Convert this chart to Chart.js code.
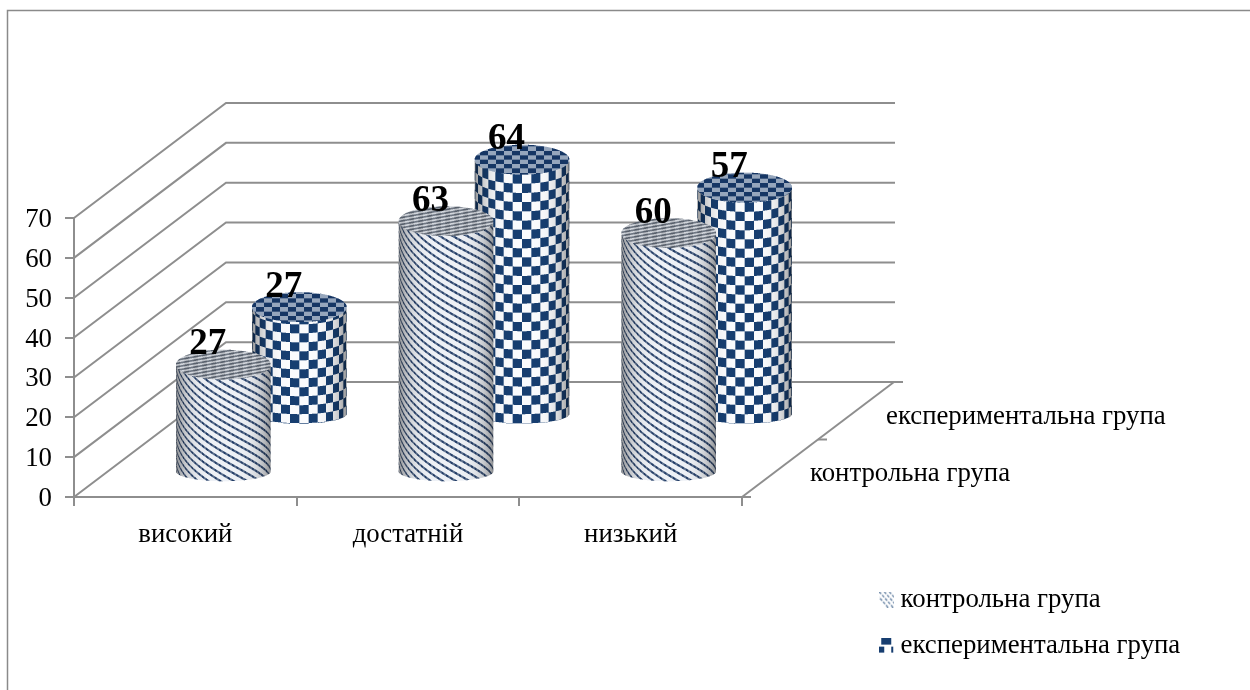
<!DOCTYPE html>
<html lang="uk">
<head>
<meta charset="utf-8">
<title>Рівні за групами</title>
<script src="https://cdn.jsdelivr.net/npm/chart.js@4"></script>
<style>
  html, body { margin: 0; padding: 0; background: #fff; }
  canvas { display: block; }
</style>
</head>
<body>
<canvas id="levels" width="1250" height="690"></canvas>
<script>
const categories = ['високий', 'достатній', 'низький'];
const controlGroup = [27, 63, 60];
const experimentalGroup = [27, 64, 57];
const seriesNames = ['контрольна група', 'експериментальна група'];
const yTicks = [0, 10, 20, 30, 40, 50, 60, 70];

const SERIF = '"Liberation Serif", "Times New Roman", serif';
const LINE = '#8e8e8e';
const NAVY = [23, 62, 112];
const DEPTH = { dx: 152, dy: -115, drop: 4, slots: [0.25, 0.75] };
const TEXT_SIZE = 26.8;

// Samples the wrapped texture of a cylinder at one sub-pixel.
function sampleBody(kind, s, v, nx) {
  let c;
  if (kind === 0) {
    const t = (v - 0.62 * s) / 8;
    const f = t - Math.floor(t);
    // Stripes are dotted along their length, which lightens them overall
    const dot = Math.floor(s / 2.2) % 2 === 0;
    c = f < 0.32 ? (dot ? [36, 62, 104] : [92, 112, 142]) : [238, 241, 246];
  } else {
    const even = (Math.floor(s / 9.4) + Math.floor(v / 9.4)) % 2 === 0;
    c = even ? NAVY : [250, 251, 253];
  }
  const shade = 1 - 0.42 * Math.pow(Math.abs(nx), 4);
  return [c[0] * shade, c[1] * shade, c[2] * shade];
}

function sampleCap(kind, x, y, yt) {
  if (kind === 0) {
    const t = (y + 0.18 * x) / 3.4;
    const dark = t - Math.floor(t) < 0.5;
    const mottle = Math.floor(x / 4.5) % 2 === 0 ? 14 : -8;
    return dark ? [96 + mottle, 104 + mottle, 116 + mottle] : [196 + mottle, 200 + mottle, 206 + mottle];
  }
  const even = (Math.floor(x / 8) + Math.floor((y - yt) / 4.4)) % 2 === 0;
  return even ? [22, 54, 100] : [150, 166, 188];
}

// Paints one cylinder into an off-screen buffer with 3x3 sampling per pixel.
function paintCylinder(ctx, kind, cx, r, yt, yb) {
  const rt = 15, rb = 10;
  const x0 = Math.floor(cx - r) - 1, w = Math.ceil(2 * r) + 3;
  const y0 = Math.floor(yt - rt) - 1, h = Math.ceil(yb + rb - y0) + 2;
  const buf = document.createElement('canvas');
  buf.width = w; buf.height = h;
  const bctx = buf.getContext('2d');
  const img = bctx.createImageData(w, h);
  const N = 3;
  for (let py = 0; py < h; py++) {
    for (let px = 0; px < w; px++) {
      let R = 0, G = 0, B = 0, A = 0;
      for (let j = 0; j < N; j++) {
        for (let i = 0; i < N; i++) {
          const x = x0 + px + (i + 0.5) / N;
          const y = y0 + py + (j + 0.5) / N;
          const nx = (x - cx) / r;
          if (Math.abs(nx) >= 1) continue;
          const arc = Math.sqrt(1 - nx * nx);
          let c = null;
          if (Math.abs(y - yt) <= rt * arc) {
            c = sampleCap(kind, x, y, yt);
          } else if (y > yt && y < yb + rb * arc) {
            const f = (y - yt) / (yb - yt);
            const v = y - (rt + (rb - rt) * f) * arc;
            c = sampleBody(kind, r * Math.asin(nx), v, nx);
          }
          if (c) { R += c[0]; G += c[1]; B += c[2]; A++; }
        }
      }
      if (A) {
        const o = (py * w + px) * 4;
        img.data[o] = R / A; img.data[o + 1] = G / A; img.data[o + 2] = B / A;
        img.data[o + 3] = 255 * A / (N * N);
      }
    }
  }
  bctx.putImageData(img, 0, 0);
  ctx.drawImage(buf, x0, y0);
}

// Bar controller that renders each bar element as a cylinder set back on the floor.
class CylinderController extends Chart.BarController {
  draw() {
    const meta = this.getMeta();
    const i = this.index;
    const d = DEPTH.slots[i];
    meta.data.forEach((bar) => {
      const yb = bar.base + DEPTH.dy * d + DEPTH.drop;
      const yt = yb - (bar.base - bar.y);
      paintCylinder(this.chart.ctx, i, bar.x + DEPTH.dx * d, bar.width / 2, yt, yb);
    });
  }
}
CylinderController.id = 'cylinder';
CylinderController.defaults = Chart.BarController.defaults;
CylinderController.overrides = Chart.BarController.overrides;
Chart.register(CylinderController);

// Small legend swatches for the two fills.
function makeSwatch(kind) {
  const c = document.createElement('canvas');
  c.width = 15; c.height = 16;
  const g = c.getContext('2d');
  g.fillStyle = '#173e70';
  if (kind === 0) {
    g.strokeStyle = '#5f7c9e';
    g.lineWidth = 1.3;
    g.setLineDash([3, 1.5]);
    [-5, 0, 5, 10].forEach((o) => {
      g.beginPath(); g.moveTo(o, 0); g.lineTo(o + 14, 16); g.stroke();
    });
  } else {
    g.fillRect(2, 0, 10, 7);
    g.fillRect(0, 9, 5, 6);
    g.fillRect(12, 9, 2, 6);
  }
  return c;
}
const swatches = [makeSwatch(0), makeSwatch(1)];

function stroke(ctx, pts) {
  ctx.beginPath();
  pts.forEach((p, i) => (i ? ctx.lineTo(p[0], p[1]) : ctx.moveTo(p[0], p[1])));
  ctx.stroke();
}

// Side wall, back wall and floor, projected from the value and category scales.
const wallsPlugin = {
  id: 'walls',
  beforeDatasetsDraw(chart) {
    const { ctx, scales: { y }, chartArea: area } = chart;
    const { dx, dy } = DEPTH;
    ctx.save();
    ctx.strokeStyle = LINE;
    ctx.lineWidth = 2;
    y.ticks.forEach((t) => {
      const py = y.getPixelForValue(t.value);
      stroke(ctx, [[area.left, py], [area.left + dx, py + dy], [area.right + dx + 1, py + dy]]);
    });
    stroke(ctx, [[area.right, area.bottom], [area.right + dx, area.bottom + dy]]);
    [0, 0.5, 1].forEach((d) => {
      const px = area.right + dx * d, py = area.bottom + dy * d;
      stroke(ctx, [[px, py], [px + 9, py]]);
    });
    ctx.restore();
    // Outer frame of the chart object
    ctx.save();
    ctx.strokeStyle = '#8a8a8a';
    ctx.lineWidth = 1.5;
    stroke(ctx, [[7.5, 690], [7.5, 10.5], [1250, 10.5]]);
    ctx.restore();
  },
  // Series names along the depth axis, and the value labels above the caps
  afterDatasetsDraw(chart) {
    const { ctx, chartArea: area } = chart;
    const { dx, dy, drop, slots } = DEPTH;
    ctx.save();
    ctx.fillStyle = '#000';
    ctx.textBaseline = 'middle';
    ctx.textAlign = 'left';
    ctx.font = TEXT_SIZE + 'px ' + SERIF;
    seriesNames.forEach((name, i) => {
      ctx.fillText(name, area.right + dx * slots[i] + 30, area.bottom + dy * slots[i] + 6);
    });
    ctx.font = 'bold 37px ' + SERIF;
    ctx.textAlign = 'center';
    chart.data.datasets.forEach((ds, i) => {
      chart.getDatasetMeta(i).data.forEach((bar, k) => {
        const yb = bar.base + dy * slots[i] + drop;
        const yt = yb - (bar.base - bar.y);
        ctx.fillText(String(ds.data[k]), bar.x + dx * slots[i] - 15.5, yt - 20);
      });
    });
    ctx.restore();
  }
};

// Moves the vertical legend to the lower right corner of the page.
const legendPlacement = {
  id: 'legendPlacement',
  afterLayout(chart) {
    const l = chart.legend;
    const w = l.width, h = l.height;
    l.left = 867; l.right = l.left + w;
    l.top = 567; l.bottom = l.top + h;
  }
};

new Chart(document.getElementById('levels'), {
  type: 'cylinder',
  data: {
    labels: categories,
    datasets: [
      { label: seriesNames[0], data: controlGroup, backgroundColor: '#6f8aa8', clip: false },
      { label: seriesNames[1], data: experimentalGroup, backgroundColor: '#173e70', clip: false }
    ]
  },
  plugins: [wallsPlugin, legendPlacement],
  options: {
    responsive: false,
    animation: false,
    events: [],
    grouped: false,
    categoryPercentage: 1,
    barPercentage: 0.4266,
    layout: { padding: { left: 0, top: 218, right: 508, bottom: 0 } },
    scales: {
      x: {
        type: 'category',
        offset: true,
        afterFit: (s) => { s.height = 193; },
        grid: { drawOnChartArea: false, offset: true, color: LINE, lineWidth: 2, tickLength: 9 },
        border: { color: LINE, width: 2 },
        ticks: { color: '#000', font: { family: SERIF, size: TEXT_SIZE }, padding: 13, maxRotation: 0 }
      },
      y: {
        type: 'linear',
        min: yTicks[0],
        max: yTicks[yTicks.length - 1],
        afterFit: (s) => { s.width = 74; },
        afterBuildTicks: (s) => { s.ticks = yTicks.map((value) => ({ value })); },
        grid: { drawOnChartArea: false, color: LINE, lineWidth: 2, tickLength: 9 },
        border: { color: LINE, width: 2 },
        ticks: { color: '#000', font: { family: SERIF, size: TEXT_SIZE }, padding: 13, labelOffset: 2 }
      }
    },
    plugins: {
      tooltip: { enabled: false },
      title: { display: false },
      legend: {
        position: 'chartArea',
        align: 'start',
        labels: {
          color: '#000',
          font: { family: SERIF, size: TEXT_SIZE },
          padding: 19.2,
          usePointStyle: true,
          pointStyleWidth: 1,
          boxHeight: 15,
          generateLabels(chart) {
            return Chart.defaults.plugins.legend.labels.generateLabels(chart)
              .map((item, i) => ({ ...item, pointStyle: swatches[i] }));
          }
        }
      }
    }
  }
});
</script>
</body>
</html>
